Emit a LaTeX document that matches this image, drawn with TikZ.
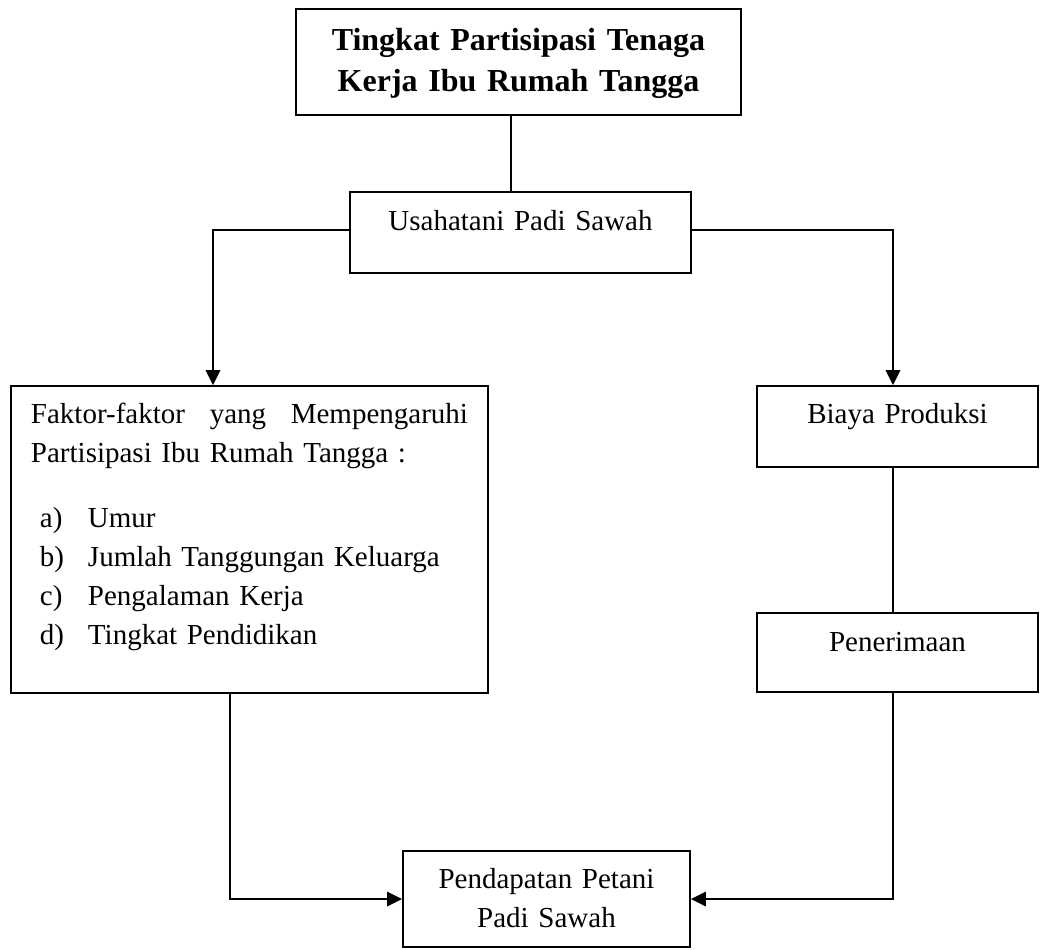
\documentclass[tikz,border=0pt]{standalone}
\usepackage{fontspec}
\setmainfont{Liberation Serif}
\usepackage{tikz}
\usetikzlibrary{arrows.meta}

\begin{document}
\begin{tikzpicture}[
  x=0.4pt, y=-0.4pt,
  box/.style={rectangle,draw,line width=0.75pt,inner sep=0pt,anchor=base,
              align=center,font=\fontsize{11.6}{15.6}\selectfont},
  tbox/.style={box,font=\fontsize{12.8}{16.4}\selectfont\bfseries},
  link/.style={line width=0.7pt},
  arrow/.style={-{Triangle[length=6pt,width=5.8pt]},line width=0.7pt}
]
\useasboundingbox (0,0) rectangle (1040,949);

% boxes
\node[tbox,text width=178pt,text height=16.4pt,text depth=26pt]
  (judul) at (518.5,50) {Tingkat Partisipasi Tenaga\\Kerja Ibu Rumah Tangga};
\node[box,text width=136.4pt,text height=15.2pt,text depth=17.2pt]
  (usaha) at (520.5,230) {Usahatani Padi Sawah};
\node[box,align=left,inner xsep=8pt,text width=174.8pt,text height=14.8pt,text depth=108pt]
  (faktor) at (249.5,423) {Faktor-faktor\hfill yang\hfill Mempengaruhi\\
    Partisipasi Ibu Rumah Tangga :\\[10.4pt]
    \hspace*{3.6pt}\makebox[19.2pt][l]{a)}Umur\\
    \hspace*{3.6pt}\makebox[19.2pt][l]{b)}Jumlah Tanggungan Keluarga\\
    \hspace*{3.6pt}\makebox[19.2pt][l]{c)}Pengalaman Kerja\\
    \hspace*{3.6pt}\makebox[19.2pt][l]{d)}Tingkat Pendidikan};
\node[box,text width=112.4pt,text height=14.8pt,text depth=17.6pt]
  (biaya) at (897.5,423) {Biaya Produksi};
\node[box,text width=112.4pt,text height=15.2pt,text depth=16.4pt]
  (terima) at (897.5,651) {Penerimaan};
\node[box,text width=114.8pt,text height=14.8pt,text depth=23.6pt]
  (pendapatan) at (546.5,888) {Pendapatan Petani\\Padi Sawah};

% connectors
\draw[link] ([xshift=-3pt]judul.south) -- ([xshift=-3pt]judul.south |- usaha.north);
\draw[arrow] (usaha.base west) -| ([xshift=-14.6pt]faktor.north);
\draw[arrow] (usaha.base east) -| ([xshift=-1.8pt]biaya.north);
\draw[link] ([xshift=-1.8pt]biaya.south) -- ([xshift=-1.8pt]terima.north);
\draw[arrow] ([xshift=-7.8pt]faktor.south) |- (pendapatan.west);
\draw[arrow] ([xshift=-1.8pt]terima.south) |- (pendapatan.east);
\end{tikzpicture}
\end{document}
